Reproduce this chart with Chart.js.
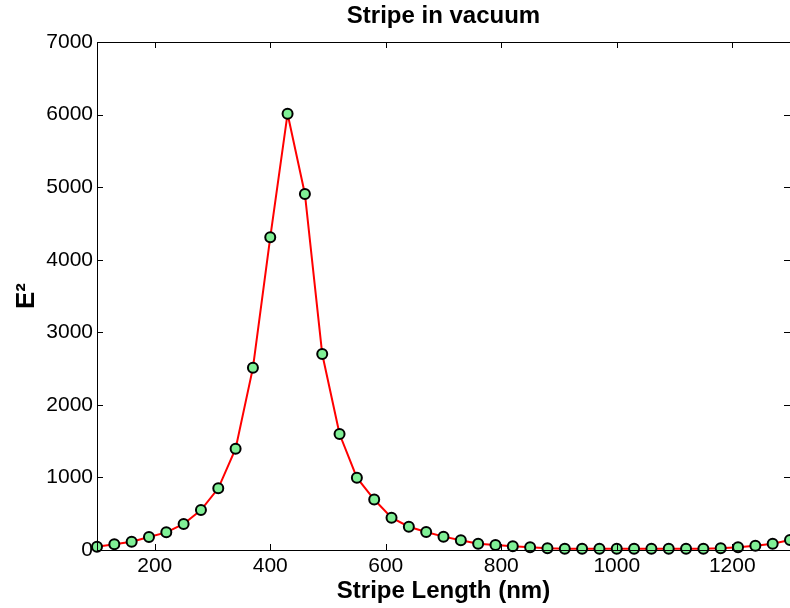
<!DOCTYPE html>
<html>
<head>
<meta charset="utf-8">
<script src="https://cdn.jsdelivr.net/npm/chart.js@4"></script>
<style>
  body { margin: 0; background: #fff; }
  #wrap { width: 790px; height: 608px; }
</style>
</head>
<body>
<div id="wrap"><canvas id="chart" width="790" height="608"></canvas></div>
<script>
const lengths = [100, 130, 160, 190, 220, 250, 280, 310, 340, 370, 400, 430, 460, 490, 520, 550, 580, 610, 640, 670, 700,
                 730, 760, 790, 820, 850, 880, 910, 940, 970, 1000, 1030, 1060, 1090, 1120, 1150, 1180, 1210, 1240, 1270, 1300];
const fieldSq = [46, 78, 115, 179, 243, 358, 551, 850, 1396, 2510, 4309, 6012, 4906, 2701, 1598, 996, 695, 445, 321, 248, 184,
                 133, 87, 69, 51, 37, 23, 18, 18, 18, 18, 18, 18, 18, 18, 18, 23, 37, 60, 87, 138];
const xTicks = [200, 400, 600, 800, 1000, 1200];
const yTicks = [0, 1000, 2000, 3000, 4000, 5000, 6000, 7000];

const FONT = 'Liberation Sans, Arial, Helvetica, sans-serif';

// MATLAB style box with inward ticks
const boxTicks = {
    id: 'boxTicks',
    afterDraw(c) {
        const ctx = c.ctx, a = c.chartArea, x = c.scales.x, y = c.scales.y;
        const len = 6;
        ctx.save();
        ctx.strokeStyle = '#000';
        ctx.lineWidth = 1;
        ctx.beginPath();
        ctx.rect(Math.round(a.left) + 0.5, Math.round(a.top) + 0.5, a.right - a.left, Math.round(a.bottom - a.top));
        xTicks.forEach(v => {
            const px = Math.round(x.getPixelForValue(v)) + 0.5;
            ctx.moveTo(px, a.bottom); ctx.lineTo(px, a.bottom - len);
            ctx.moveTo(px, a.top); ctx.lineTo(px, a.top + len);
        });
        yTicks.forEach(v => {
            const py = Math.round(y.getPixelForValue(v)) + 0.5;
            ctx.moveTo(a.left, py); ctx.lineTo(a.left + len, py);
            ctx.moveTo(a.right, py); ctx.lineTo(a.right - len, py);
        });
        ctx.stroke();
        ctx.restore();
    }
};

new Chart(document.querySelector('#chart').getContext('2d'), {
    type: 'line',
    data: {
        datasets: [{
            data: lengths.map((v, i) => ({ x: v, y: fieldSq[i] })),
            borderColor: '#ff0000',
            borderWidth: 2,
            tension: 0,
            pointRadius: 5,
            pointBorderWidth: 2,
            pointBorderColor: '#000',
            pointBackgroundColor: '#80F096',
            clip: false
        }]
    },
    options: {
        responsive: false,
        animation: false,
        layout: { autoPadding: false, padding: 0 },
        plugins: {
            legend: { display: false },
            tooltip: { enabled: false }
        },
        scales: {
            x: {
                type: 'linear',
                min: 100,
                max: 1300,
                afterBuildTicks: s => { s.ticks = xTicks.map(v => ({ value: v })); },
                afterFit: s => { s.height = 58; },
                grid: { display: false, drawTicks: false },
                border: { display: false },
                ticks: { color: '#000', padding: 4, maxRotation: 0, font: { family: FONT, size: 21 }, callback: v => String(v) },
                title: {
                    display: true,
                    text: 'Stripe Length (nm)',
                    color: '#000',
                    font: { family: FONT, size: 24, weight: 'bold' },
                    padding: { top: 0, bottom: 2 }
                }
            },
            xTop: {
                type: 'linear',
                position: 'top',
                min: 100,
                max: 1300,
                afterFit: s => { s.height = 42; },
                grid: { display: false, drawTicks: false },
                border: { display: false },
                ticks: { display: false },
                title: {
                    display: true,
                    text: 'Stripe in vacuum',
                    color: '#000',
                    font: { family: FONT, size: 24, weight: 'bold' },
                    padding: { top: 2, bottom: 0 }
                }
            },
            y: {
                min: 0,
                max: 7000,
                afterBuildTicks: s => { s.ticks = yTicks.map(v => ({ value: v })); },
                afterFit: s => { s.width = 97; },
                grid: { display: false, drawTicks: false },
                border: { display: false },
                ticks: { color: '#000', padding: 4, font: { family: FONT, size: 21 }, callback: v => String(v) },
                title: {
                    display: true,
                    text: 'E²',
                    color: '#000',
                    font: { family: FONT, size: 26, weight: 'bold' },
                    padding: { top: 11, bottom: 0 }
                }
            }
        }
    },
    plugins: [boxTicks]
});
</script>
</body>
</html>
